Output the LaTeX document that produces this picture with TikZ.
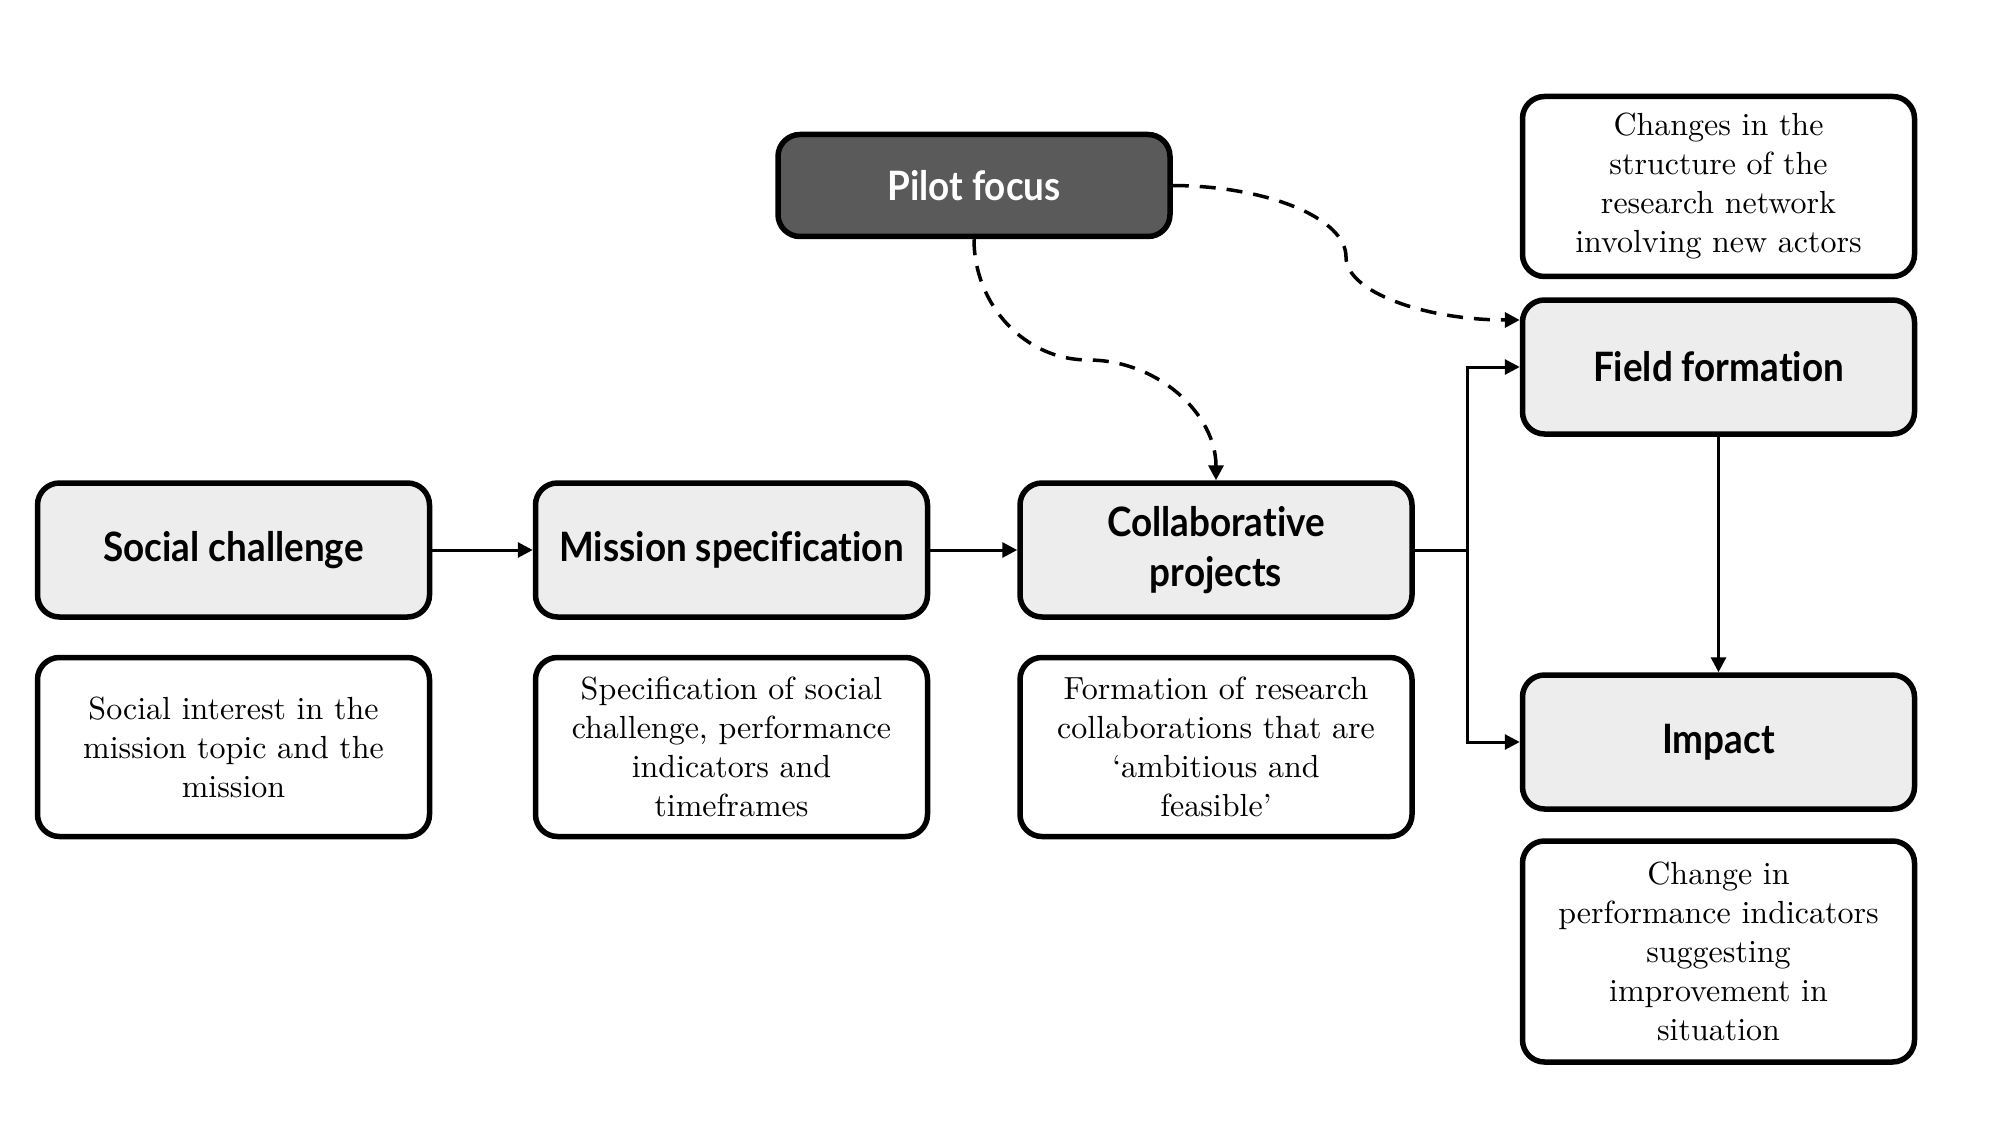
\documentclass[tikz,border=0pt]{standalone}
\usepackage{fontspec}
\setmainfont{lmroman10-regular.otf}
\newfontfamily\hdfont{Lato}[FakeStretch=0.91, Ligatures=NoCommon]
\usetikzlibrary{arrows.meta}
\definecolor{boxgray}{HTML}{EDEDED}
\definecolor{pilotgray}{HTML}{5A5A5A}
\begin{document}
\begin{tikzpicture}[x=1pt,y=1pt,
  box/.style={draw=black, line width=5.5pt, rounded corners=22pt, minimum width=392pt, inner sep=0pt, align=center},
  headbox/.style={box, fill=boxgray, minimum height=134pt, font=\hdfont\bfseries\fontsize{40.5}{50}\selectfont},
  pilotbox/.style={box, fill=pilotgray, text=white, minimum height=102pt, font=\hdfont\bfseries\fontsize{40.5}{50}\selectfont},
  txtbox/.style={box, fill=white, minimum height=179pt, font=\fontsize{32}{39}\selectfont},
  conn/.style={draw=black, line width=3pt, -{Triangle[length=15pt,width=15pt]}},
  dconn/.style={draw=black, line width=3.5pt, dash pattern=on 16pt off 11pt, -{Triangle[length=15pt,width=15pt]}}
]
\useasboundingbox (0,0) rectangle (1990,-1142);

% main row
\node[headbox] (social)  at (233.5,-550) {Social challenge};
\node[headbox] (mission) at (731.5,-550) {Mission specification};
\node[headbox] (collab)  at (1216,-550) {Collaborative\\projects};

% lower texts
\node[txtbox] (socialtxt)  at (233.5,-747) {Social interest in the\\mission topic and the\\mission};
\node[txtbox] (missiontxt) at (731.5,-747) {Specification of social\\challenge, performance\\indicators and\\timeframes};
\node[txtbox] (collabtxt)  at (1216,-747) {Formation of research\\collaborations that are\\`ambitious and\\feasible'};

% pilot
\node[pilotbox] (pilot) at (974,-185.5) {Pilot focus};

% right column
\node[txtbox, minimum height=180pt] (changes) at (1718.5,-186.5) {Changes in the\\structure of the\\research network\\involving new actors};
\node[headbox] (field)  at (1718.5,-367) {Field formation};
\node[headbox] (impact) at (1718.5,-742) {Impact};
\node[txtbox, minimum height=221pt] (changein) at (1718.5,-951.5) {Change in\\performance indicators\\suggesting\\improvement in\\situation};

% connectors
\coordinate (br) at (1467,-550);
\coordinate (m1) at (1346,-257);
\coordinate (m2) at (1088,-360);

\draw[conn] (social) -- (mission);
\draw[conn] (mission) -- (collab);
\draw[line width=3pt] (collab.east) -- (br);
\draw[conn] (br) |- (field.west);
\draw[conn] (br) |- (impact.west);
\draw[conn] (field) -- (impact);

\draw[dconn] (pilot.east) .. controls (1267,-186) and (1346,-218) .. (m1)
  .. controls (1346,-292) and (1425,-320) .. ([yshift=47pt]field.west);
\draw[dconn] (pilot.south) .. controls (974,-305) and (1025,-360) .. (m2)
  .. controls (1158,-360) and (1216,-414) .. (collab.north);
\end{tikzpicture}
\end{document}
